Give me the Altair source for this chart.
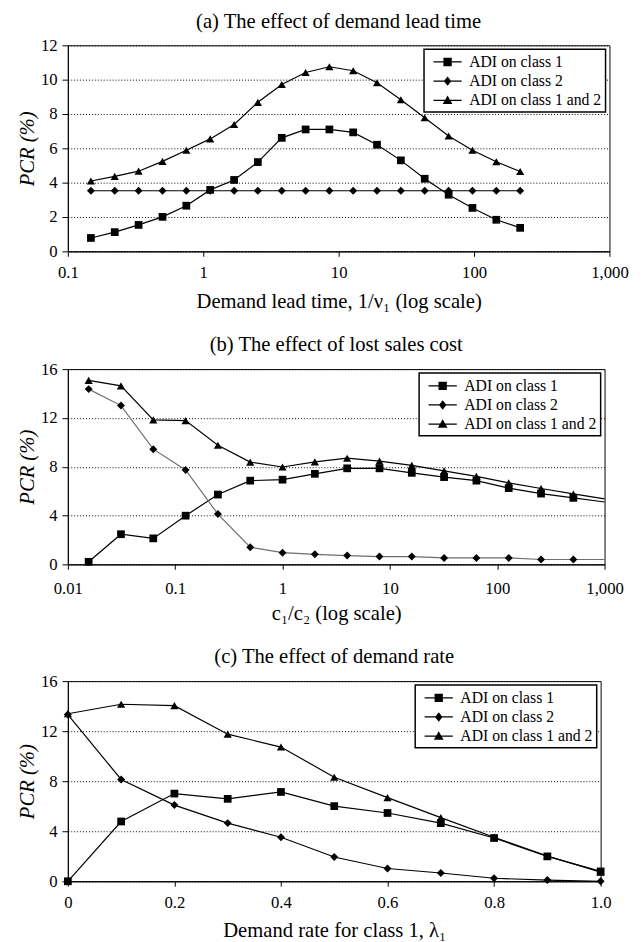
import altair as alt
import pandas as pd

SERIES = ["ADI on class 1", "ADI on class 2", "ADI on class 1 and 2"]
FONT = "Liberation Serif"

# ---------------- Panel (a): effect of demand lead time ----------------
a_x = [0.148, 0.222, 0.333, 0.5, 0.75, 1.125, 1.69, 2.53, 3.80, 5.70, 8.54,
       12.8, 19.2, 28.8, 43.2, 64.9, 97.3, 146, 219]
a_class1 = [0.78, 1.12, 1.54, 2.01, 2.66, 3.58, 4.16, 5.20, 6.61, 7.10, 7.10,
            6.93, 6.21, 5.30, 4.23, 3.30, 2.53, 1.84, 1.37]
a_class2 = [3.53, 3.53, 3.53, 3.53, 3.53, 3.53, 3.53, 3.53, 3.53, 3.53, 3.53,
            3.53, 3.53, 3.53, 3.53, 3.53, 3.53, 3.53, 3.53]
a_both = [4.10, 4.37, 4.67, 5.24, 5.89, 6.55, 7.39, 8.68, 9.72, 10.42, 10.75,
          10.52, 9.82, 8.83, 7.78, 6.72, 5.89, 5.22, 4.65]

# ---------------- Panel (b): effect of lost sales cost ----------------
b_x = [0.015625, 0.03125, 0.0625, 0.125, 0.25, 0.5, 1, 2, 4, 8, 16, 32, 64,
       128, 256, 512]
b_class1 = [0.21, 2.47, 2.13, 3.99, 5.72, 6.86, 6.94, 7.42, 7.87, 7.87, 7.50,
            7.15, 6.86, 6.25, 5.80, 5.45]
b_class2 = [14.36, 13.01, 9.44, 7.74, 4.12, 1.41, 0.96, 0.82, 0.72, 0.64, 0.64,
            0.53, 0.53, 0.53, 0.40, 0.40]
b_both = [15.08, 14.63, 11.84, 11.78, 9.76, 8.38, 7.98, 8.40, 8.70, 8.46, 8.11,
          7.66, 7.21, 6.68, 6.22, 5.77]
# values where the lines leave the plot at its right edge (x = 1,000)
b_edge_x = 1000
b_edge = [5.11, 0.40, 5.37]

# ---------------- Panel (c): effect of demand rate ----------------
c_x = [0.0, 0.1, 0.2, 0.3, 0.4, 0.5, 0.6, 0.7, 0.8, 0.9, 1.0]
c_class1 = [0.0, 4.78, 7.01, 6.59, 7.14, 6.01, 5.46, 4.65, 3.46, 1.99, 0.79]
c_class2 = [13.33, 8.14, 6.09, 4.65, 3.52, 1.94, 1.02, 0.66, 0.24, 0.10, 0.0]
c_both = [13.39, 14.15, 14.04, 11.76, 10.73, 8.32, 6.69, 5.09, 3.52, 2.02, 0.73]

# marker shapes and legend symbols (line segment with the marker in the middle)
MARKERS = ["square", "diamond", "triangle-up"]
LEG_SYMBOLS = [
    "M-1.8,-0.08H1.8V0.08H-1.8Z M-0.53,-0.53H0.53V0.53H-0.53Z",
    "M-1.8,-0.08H1.8V0.08H-1.8Z M0,-0.6L0.48,0L0,0.6L-0.48,0Z",
    "M-1.8,-0.08H1.8V0.08H-1.8Z M0,-0.62L0.62,0.48L-0.62,0.48Z",
]


def long_frame(x, ys):
    rows = []
    for name, vals in zip(SERIES, ys):
        for xv, yv in zip(x, vals):
            rows.append({"x": xv, "y": yv, "series": name, "series_leg": name})
    return pd.DataFrame(rows)


def panel(points_df, lines_df, title, xtitle, xscale, xaxis, ymax, ystep,
          width, height, line_colors):
    x_enc = alt.X("x:Q", scale=xscale, axis=xaxis, title=xtitle)
    y_enc = alt.Y("y:Q", scale=alt.Scale(domain=[0, ymax], nice=False),
                  axis=alt.Axis(values=list(range(0, ymax + 1, ystep)),
                                grid=True, gridColor="black", gridDash=[1, 2],
                                gridWidth=1, tickSize=6, labelPadding=5,
                                titlePadding=3, titleFontStyle="italic"),
                  title="PCR (%)")
    lines = alt.Chart(lines_df).mark_line(strokeWidth=1.2).encode(
        x=x_enc, y=y_enc,
        detail="series:N",
        color=alt.Color("series:N", scale=alt.Scale(domain=SERIES, range=line_colors),
                        legend=None),
    )
    pts = alt.Chart(points_df).mark_point(filled=True, color="black", opacity=1).encode(
        x=x_enc, y=y_enc,
        shape=alt.Shape("series:N", scale=alt.Scale(domain=SERIES, range=MARKERS),
                        legend=None),
        size=alt.Size("series:N", scale=alt.Scale(domain=SERIES, range=[62, 70, 85]),
                      legend=None),
    )
    leg = alt.Chart(points_df).mark_point(filled=True, color="black", opacity=0).encode(
        x=x_enc, y=y_enc,
        shape=alt.Shape("series_leg:N",
                        scale=alt.Scale(domain=SERIES, range=LEG_SYMBOLS),
                        legend=alt.Legend(title=None, orient="top-right", offset=4,
                                          padding=4, strokeColor="black",
                                          fillColor="white",
                                          labelFont=FONT, labelFontSize=16,
                                          labelColor="black", symbolSize=256,
                                          symbolFillColor="black",
                                          symbolOpacity=1, rowPadding=2.5,
                                          symbolOffset=11, labelOffset=13)),
    )
    return (
        alt.layer(lines, pts, leg)
        .resolve_scale(shape="independent", size="independent", color="independent")
        .properties(width=width, height=height,
                    title=alt.TitleParams(title, font=FONT, fontSize=21,
                                          fontWeight="normal", color="black",
                                          anchor="middle", frame="group", offset=5))
    )


pa = long_frame(a_x, [a_class1, a_class2, a_both])
pb = long_frame(b_x, [b_class1, b_class2, b_both])
pb_lines = pd.concat([pb, long_frame([b_edge_x], [[b_edge[0]], [b_edge[1]], [b_edge[2]]])],
                     ignore_index=True)
pc = long_frame(c_x, [c_class1, c_class2, c_both])

chart_a = panel(
    pa, pa, "(a) The effect of demand lead time",
    "Demand lead time, 1/ν₁ (log scale)",
    alt.Scale(type="log", domain=[0.1, 1000], nice=False),
    alt.Axis(values=[0.1, 1, 10, 100, 1000], format=",", labelFlush=False,
             tickSize=5, labelPadding=9, titlePadding=10, grid=False),
    12, 2, 552, 210, ["black", "black", "black"],
)
chart_b = panel(
    pb, pb_lines, "(b) The effect of lost sales cost",
    "c₁/c₂ (log scale)",
    alt.Scale(type="log", domain=[0.01, 1000], nice=False),
    alt.Axis(values=[0.01, 0.1, 1, 10, 100, 1000], format=",", labelFlush=False,
             tickSize=5, labelPadding=12, titlePadding=6, grid=False),
    16, 4, 547, 199, ["black", "#6e6e6e", "black"],
)
chart_c = panel(
    pc, pc, "(c) The effect of demand rate",
    "Demand rate for class 1, λ₁",
    alt.Scale(domain=[0, 1], nice=False),
    alt.Axis(values=[0, 0.2, 0.4, 0.6, 0.8, 1.0],
             labelExpr="datum.value == 0 ? '0' : format(datum.value, '.1f')",
             labelFlush=False, tickSize=5, labelPadding=9, titlePadding=9,
             grid=False),
    16, 4, 543, 204, ["black", "black", "black"],
)

chart = (
    alt.vconcat(chart_a, chart_b, chart_c, spacing=22)
    .properties(padding={"left": 8, "top": -7, "right": 5, "bottom": 0},
                background="white")
    .configure_view(stroke="black", strokeWidth=1)
    .configure_axis(labelFont=FONT, labelFontSize=17, labelColor="black",
                    titleFont=FONT, titleFontSize=21, titleFontWeight="normal",
                    titleColor="black", domainColor="black", tickColor="black",
                    domainWidth=1)
    .configure_legend(strokeWidth=1.5, labelFont=FONT, labelFontSize=16,
                      labelColor="black")
)

chart.save("out.html", embed_options={"renderer": "svg", "actions": False})
